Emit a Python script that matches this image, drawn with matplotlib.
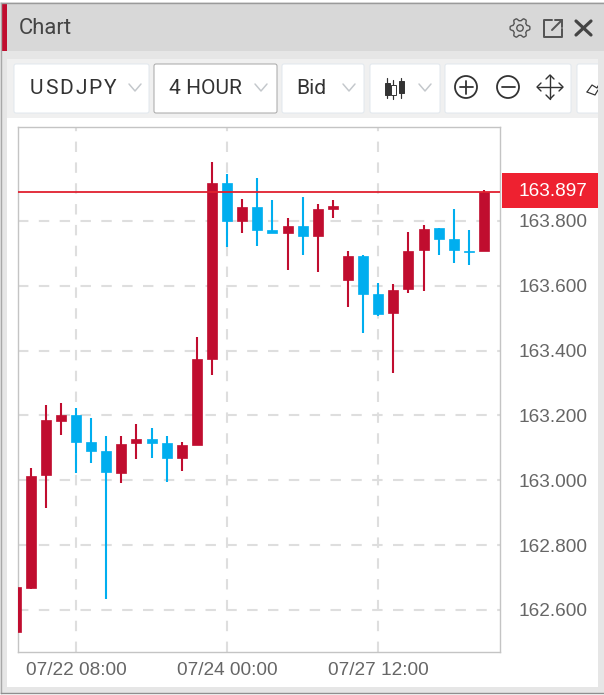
import numpy as np
import matplotlib
matplotlib.use("Agg")
import matplotlib.pyplot as plt
from matplotlib.patches import Rectangle, FancyBboxPatch, Circle, Polygon

W, H = 604, 695
RED = "#c00d2f"
BLUE = "#00aeef"

# candle values
opens = [162.532, 162.668, 163.017, 163.183, 163.201, 163.117, 163.091, 163.022,
         163.114, 163.128, 163.114, 163.068, 163.110, 163.373, 163.917, 163.800,
         163.843, 163.771, 163.764, 163.786, 163.755, 163.838, 163.618, 163.692,
         163.575, 163.517, 163.589, 163.710, 163.777, 163.744, 163.708, 163.706]
closes = [162.670, 163.014, 163.187, 163.201, 163.117, 163.091, 163.024, 163.113,
          163.127, 163.116, 163.068, 163.108, 163.373, 163.917, 163.801, 163.843,
          163.772, 163.763, 163.785, 163.755, 163.836, 163.845, 163.693, 163.575,
          163.514, 163.587, 163.706, 163.776, 163.745, 163.710, 163.704, 163.890]
highs = [162.670, 163.037, 163.232, 163.238, 163.222, 163.193, 163.135, 163.135,
         163.173, 163.161, 163.135, 163.118, 163.442, 163.982, 163.945, 163.869,
         163.933, 163.864, 163.809, 163.874, 163.852, 163.864, 163.706, 163.695,
         163.610, 163.605, 163.766, 163.788, 163.777, 163.836, 163.771, 163.895]
lows = [162.532, 162.665, 162.914, 163.141, 163.022, 163.054, 162.633, 162.990,
        163.065, 163.070, 162.995, 163.027, 163.108, 163.324, 163.719, 163.762,
        163.724, 163.762, 163.648, 163.696, 163.642, 163.810, 163.535, 163.453,
        163.508, 163.330, 163.578, 163.583, 163.696, 163.669, 163.664, 163.706]

y_ticks = [162.6, 162.8, 163.0, 163.2, 163.4, 163.6, 163.8]
x_ticks = [4, 14, 24]
x_labels = ["07/22 08:00", "07/24 00:00", "07/27 12:00"]
price_level = 163.890
price_label = "163.897"
toolbar_labels = ["USDJPY", "4 HOUR", "Bid"]

fig = plt.figure(figsize=(W / 100, H / 100), dpi=100, facecolor="#e6e6e6")

# window chrome, drawn in pixel coordinates
bg = fig.add_axes([0, 0, 1, 1])
bg.set_xlim(0, W)
bg.set_ylim(H, 0)
bg.axis("off")


def px(size):
    return size * 0.72


def box(x0, y0, x1, y1, edge, fc="white", lw=1.0):
    bg.add_patch(FancyBboxPatch((x0 + 2, y0 + 2), x1 - x0 - 4, y1 - y0 - 4,
                                boxstyle="round,pad=2", fc=fc, ec=edge, lw=lw * 0.72))


def line(xs, ys, color="#444444", lw=1.5):
    bg.plot(xs, ys, color=color, lw=lw * 0.72, solid_capstyle="round")


bg.add_patch(Rectangle((0, 0), W, 2, fc="white", ec="none"))
bg.add_patch(Rectangle((1, 3), W, 48, fc="#d8d8d8", ec="none"))
bg.plot([1, W], [2.5, 2.5], color="#9a9a9a", lw=1)
bg.plot([0.7, 0.7], [3, 693], color="#a8a8a8", lw=1)
bg.plot([1, W], [693, 693], color="#8f8f8f", lw=1)
bg.add_patch(Rectangle((0, 694), W, 1, fc="white", ec="none"))
bg.add_patch(Rectangle((1, 3), 6, 48, fc=RED, ec="none"))
bg.add_patch(Rectangle((7, 59), 591, 628, fc="white", ec="none"))
bg.add_patch(Rectangle((7, 59), 591, 59, fc="#f0f0f0", ec="none"))
bg.text(19, 28, "Chart", family="Roboto", fontsize=px(22), color="#444444", va="center")

# toolbar buttons
box(14, 64, 149, 113, "#e2e8ee")
box(154, 64, 277, 113, "#a8a8a8")
box(282, 64, 364, 113, "#e2e8ee")
box(370, 64, 440, 113, "#e2e8ee")
box(445, 64, 571, 113, "#e2e8ee")
bg.add_patch(FancyBboxPatch((579, 66), 60, 45, boxstyle="round,pad=2", fc="white", ec="#e2e8ee",
                            lw=0.72, clip_box=None))
bg.add_patch(Rectangle((598, 60), 6, 60, fc="#e6e6e6", ec="none", zorder=3))

# USDJPY has wide letter spacing in the original
cursor = 30.0
fig.canvas.draw()
renderer = fig.canvas.get_renderer()
for ch in toolbar_labels[0]:
    t = bg.text(cursor, 89, ch, family="Roboto", fontsize=px(21), color="#333333", va="center")
    cursor += t.get_window_extent(renderer).width + 1.8
bg.text(169, 89, toolbar_labels[1], family="Roboto", fontsize=px(21), color="#333333", va="center")
bg.text(296, 89, toolbar_labels[2], family="Roboto", fontsize=px(21), color="#333333", va="center")
for cx in (135, 261, 349, 425):
    line([cx - 6, cx, cx + 6], [84, 91, 84], color="#c4c8cc")

# candle icon in the toolbar
for cx, y0, y1, b0, b1, fc in ((387, 78, 98, 83, 95, "#333333"),
                               (393, 80, 99, 85, 95, "white"),
                               (401, 78, 98, 81, 93, "#333333")):
    line([cx, cx], [y0, y1], color="#333333", lw=1.2)
    bg.add_patch(Rectangle((cx - 2.5, b0), 5, b1 - b0, fc=fc, ec="#333333", lw=0.7, zorder=3))

# zoom and pan icons
for cx, sign in ((466, "+"), (508, "-")):
    bg.add_patch(Circle((cx, 87), 11, fc="none", ec="#333333", lw=1.3))
    line([cx - 6.5, cx + 6.5], [87, 87], color="#333333", lw=1.8)
    if sign == "+":
        line([cx, cx], [80.5, 93.5], color="#333333", lw=1.8)
line([538, 562], [87, 87], color="#333333", lw=1.4)
line([550, 550], [75, 99], color="#333333", lw=1.4)
line([541, 537, 541], [83, 87, 91], color="#333333", lw=1.4)
line([559, 563, 559], [83, 87, 91], color="#333333", lw=1.4)
line([546, 550, 554], [79, 75, 79], color="#333333", lw=1.4)
line([546, 550, 554], [95, 99, 95], color="#333333", lw=1.4)
line([587, 592, 597, 598], [92, 85, 88, 86], color="#333333", lw=1.2)
line([587, 595, 598], [92, 95, 90], color="#333333", lw=1.2)

# title bar icons: gear outline with six soft teeth
angles = np.linspace(0, 2 * np.pi, 145)
radii = 8.6 + 1.3 * np.clip(np.cos(6 * angles) * 1.6, -1, 1)
bg.add_patch(Polygon(np.column_stack([520 + radii * np.cos(angles), 28 + radii * np.sin(angles)]),
                     fc="none", ec="#555555", lw=1.0))
bg.add_patch(Circle((520, 28), 3.2, fc="none", ec="#555555", lw=1.0))
line([552, 544, 544, 562, 562], [20, 20, 37, 37, 29], color="#555555", lw=2)
line([552, 562], [30, 20], color="#555555", lw=2)
line([555, 562, 562], [20, 20, 27], color="#555555", lw=2)
line([576, 591], [21, 35], color="#444444", lw=3.2)
line([591, 576], [21, 35], color="#444444", lw=3.2)

# price axes, placed to the pixel
ax = fig.add_axes([17.5 / W, 1 - 652 / H, (500 - 17.5) / W, (652 - 127) / H])
ax.set_xlim(0.126, 32.06)
ax.set_ylim(162.470, 164.090)
ax.set_facecolor("white")
for s in ax.spines.values():
    s.set_color("#c4c4c4")
    s.set_linewidth(1)
ax.yaxis.tick_right()
ax.set_yticks(y_ticks)
ax.set_yticklabels(["%.3f" % v for v in y_ticks], family="Liberation Sans", fontsize=px(19), color="#666666")
ax.set_xticks(x_ticks)
ax.set_xticklabels(x_labels, family="Liberation Sans", fontsize=px(19), color="#666666")
ax.tick_params(length=0, axis="y", pad=13)
ax.tick_params(length=0, axis="x", pad=7.5)
ax.grid(True, color="#dedede", lw=1.5, ls=(0, (5, 5)))
ax.set_axisbelow(True)

for i in range(len(opens)):
    color = RED if closes[i] >= opens[i] else BLUE
    ax.vlines(i, lows[i], highs[i], color=color, lw=1.5, zorder=3)
    ax.bar(i, closes[i] - opens[i], bottom=opens[i], width=0.66, color=color,
           edgecolor=color, lw=0.5, zorder=3)

ax.axhline(price_level, color="#e0202f", lw=1.3, zorder=4)

# price tag sits outside the axes, so it goes on the chrome layer above everything
tag = fig.add_axes([0, 0, 1, 1], facecolor="none")
tag.set_xlim(0, W)
tag.set_ylim(H, 0)
tag.axis("off")
tag.add_patch(Rectangle((502, 173), 96, 35, fc="#ee2130", ec="none"))
tag.text(553, 191, price_label, family="Liberation Sans", fontsize=px(19), color="white",
         ha="center", va="center")

fig.savefig("out.png", dpi=100, facecolor=fig.get_facecolor())
